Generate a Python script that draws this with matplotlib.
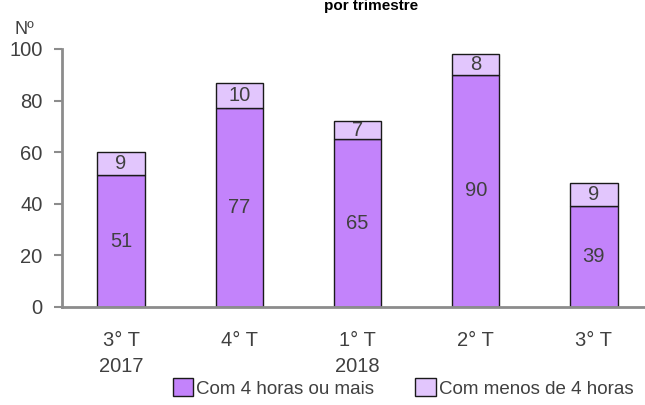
import matplotlib
matplotlib.use("Agg")
import matplotlib.pyplot as plt
import numpy as np

# dados
trimestres = ['3° T', '4° T', '1° T', '2° T', '3° T']
anos = ['2017', '', '2018', '', '']
com_4_horas = [51, 77, 65, 90, 39]
menos_4_horas = [9, 10, 7, 8, 9]

cor_escura = '#C383FB'
cor_clara = '#E2C6FD'
cinza_texto = '#404040'
cinza_eixo = '#8C8C8C'

plt.rcParams['font.family'] = ['Liberation Sans', 'DejaVu Sans']

fig = plt.figure(figsize=(6.45, 4.05), dpi=100)
ax = fig.add_axes([62 / 645, 98 / 405, 591 / 645, 258 / 405])

x = np.arange(len(trimestres))
b1 = ax.bar(x, com_4_horas, width=0.4, color=cor_escura, edgecolor='#1a1a1a',
            linewidth=1, label='Com 4 horas ou mais')
b2 = ax.bar(x, menos_4_horas, width=0.4, bottom=com_4_horas, color=cor_clara,
            edgecolor='#1a1a1a', linewidth=1, label='Com menos de 4 horas')

for i in range(len(x)):
    ax.text(x[i], com_4_horas[i] / 2, str(com_4_horas[i]), ha='center', va='center',
            fontsize=14.5, color=cinza_texto)
    ax.text(x[i], com_4_horas[i] + menos_4_horas[i] / 2, str(menos_4_horas[i]),
            ha='center', va='center', fontsize=14.5, color=cinza_texto)

ax.set_xlim(-0.5, 4.5)
ax.set_ylim(0, 100)
ax.set_yticks([0, 20, 40, 60, 80, 100])
ax.set_xticks(x)
ax.set_xticklabels([t + ('\n' + a if a else '') for t, a in zip(trimestres, anos)],
                   va='top', linespacing=1.5)
ax.tick_params(axis='x', length=0, pad=17, labelsize=14.5, labelcolor=cinza_texto)
ax.tick_params(axis='y', length=6, width=1.5, color=cinza_eixo, pad=8,
               labelsize=14.5, labelcolor=cinza_texto)

for s in ['top', 'right']:
    ax.spines[s].set_visible(False)
for s in ['left', 'bottom']:
    ax.spines[s].set_color(cinza_eixo)
    ax.spines[s].set_linewidth(2)

fig.text(14 / 645, 1 - 34 / 405, 'Nº', fontsize=13, color=cinza_texto, va='baseline')
fig.text(371 / 645, 1 - 10 / 405, 'por trimestre', fontsize=11, fontweight='bold',
         ha='center', va='baseline')

fig.legend(handles=[b1, b2], loc='center', bbox_to_anchor=(403 / 645, 1 - 388 / 405),
           ncol=2, frameon=False, fontsize=13.5, handlelength=1.1, handleheight=1.1,
           handletextpad=0.15, columnspacing=2.2, borderaxespad=0, labelcolor=cinza_texto)

fig.savefig('out.png', dpi=100)
